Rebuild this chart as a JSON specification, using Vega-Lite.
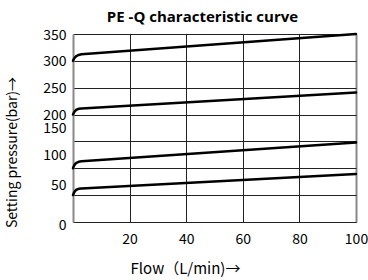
{
  "$schema": "https://vega.github.io/schema/vega-lite/v6.json",
  "autosize": {"type": "none"},
  "padding": {"left": 73, "top": 34, "right": 12, "bottom": 58},
  "width": 283,
  "height": 188,
  "background": "white",
  "view": {"stroke": null},
  "title": {
    "text": "PE -Q characteristic curve",
    "font": "Open Sans",
    "fontSize": 15,
    "fontWeight": "bold",
    "color": "#000000",
    "anchor": "middle",
    "frame": "group",
    "dx": -12,
    "offset": 3
  },
  "data": {
    "values": [
      {"series": "A", "flow": 0, "pressure": 300},
      {"series": "A", "flow": 0.3, "pressure": 303.5},
      {"series": "A", "flow": 0.7, "pressure": 306.5},
      {"series": "A", "flow": 1.2, "pressure": 309},
      {"series": "A", "flow": 2, "pressure": 311},
      {"series": "A", "flow": 3, "pressure": 312.2},
      {"series": "A", "flow": 100, "pressure": 350},
      {"series": "B", "flow": 0, "pressure": 200},
      {"series": "B", "flow": 0.3, "pressure": 203.5},
      {"series": "B", "flow": 0.7, "pressure": 206.5},
      {"series": "B", "flow": 1.2, "pressure": 209},
      {"series": "B", "flow": 2, "pressure": 210.7},
      {"series": "B", "flow": 3, "pressure": 211.5},
      {"series": "B", "flow": 100, "pressure": 241},
      {"series": "C", "flow": 0, "pressure": 100},
      {"series": "C", "flow": 0.3, "pressure": 104},
      {"series": "C", "flow": 0.7, "pressure": 107.5},
      {"series": "C", "flow": 1.2, "pressure": 110},
      {"series": "C", "flow": 2, "pressure": 112},
      {"series": "C", "flow": 3, "pressure": 113},
      {"series": "C", "flow": 100, "pressure": 148},
      {"series": "D", "flow": 0, "pressure": 50},
      {"series": "D", "flow": 0.3, "pressure": 54},
      {"series": "D", "flow": 0.7, "pressure": 57.5},
      {"series": "D", "flow": 1.2, "pressure": 60},
      {"series": "D", "flow": 2, "pressure": 61.7},
      {"series": "D", "flow": 3, "pressure": 62.5},
      {"series": "D", "flow": 100, "pressure": 89.5}
    ]
  },
  "mark": {"type": "line", "color": "#000000", "strokeWidth": 2.5, "interpolate": "linear", "strokeJoin": "round", "strokeCap": "round", "clip": false},
  "encoding": {
    "detail": {"field": "series", "type": "nominal"},
    "x": {
      "field": "flow",
      "type": "quantitative",
      "scale": {"domain": [0, 100], "nice": false, "zero": false},
      "axis": {
        "values": [20, 40, 60, 80, 100],
        "title": "Flow（L/min)→",
        "titleFont": "Noto Sans CJK SC",
        "titleFontSize": 15,
        "titleFontWeight": "normal",
        "titleColor": "#000000",
        "titleX": 112,
        "titleY": 46,
        "titleBaseline": "middle",
        "titleAnchor": null,
        "labelFont": "Noto Sans CJK SC",
        "labelFontSize": 14,
        "labelColor": "#000000",
        "labelPadding": 10,
        "labelFlush": false,
        "ticks": false,
        "domainColor": "#222222",
        "domainWidth": 1,
        "grid": true,
        "gridColor": {"condition": {"test": "datum.value == 100", "value": "#888888"}, "value": "#222222"},
        "gridWidth": {"condition": {"test": "datum.value == 100", "value": 2}, "value": 1},
        "gridOpacity": 1
      }
    },
    "y": {
      "field": "pressure",
      "type": "quantitative",
      "scale": {"domain": [0, 350], "nice": false, "zero": false},
      "axis": {
        "values": [0, 50, 100, 150, 200, 250, 300, 350],
        "title": "Setting pressure(bar)→",
        "titleFont": "Noto Sans CJK SC",
        "titleFontSize": 14,
        "titleFontWeight": "normal",
        "titleColor": "#000000",
        "titleX": -61,
        "titleY": 118,
        "titleAngle": -90,
        "titleAlign": "center",
        "titleBaseline": "middle",
        "titleAnchor": null,
        "labelFont": "Noto Sans CJK SC",
        "labelFontSize": 14,
        "labelColor": "#000000",
        "labelPadding": 7,
        "labelFlush": false,
        "labelOverlap": false,
        "labelOffset": {
          "condition": [
            {"test": "datum.value == 150 || datum.value == 100", "value": -13},
            {"test": "datum.value == 50", "value": -10},
            {"test": "datum.value == 0", "value": 3}
          ],
          "value": 1
        },
        "ticks": false,
        "domainColor": "#888888",
        "domainWidth": 2,
        "grid": true,
        "gridColor": "#222222",
        "gridWidth": 1,
        "gridOpacity": 1
      }
    }
  }
}
